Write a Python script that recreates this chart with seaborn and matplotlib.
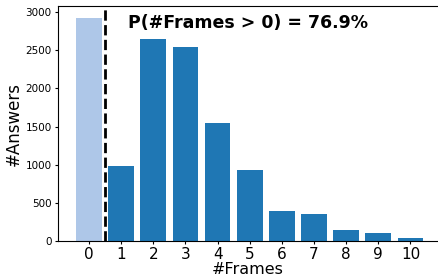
import numpy as np
import pandas as pd
import seaborn as sns
import matplotlib.pyplot as plt

# number of frames per answer
frames = [0, 1, 2, 3, 4, 5, 6, 7, 8, 9, 10]
answers = [2930, 983, 2647, 2542, 1550, 930, 393, 354, 144, 105, 39]

data = pd.DataFrame({'frames': frames, 'answers': answers})
data['zero'] = np.where(data['frames'] == 0, 'zero', 'nonzero')

sns.set_style('ticks')
plt.rcParams['font.family'] = ['DejaVu Sans']
plt.rcParams['text.color'] = 'black'
plt.rcParams['axes.labelcolor'] = 'black'
plt.rcParams['xtick.color'] = 'black'
plt.rcParams['ytick.color'] = 'black'
plt.rcParams['axes.edgecolor'] = 'black'

fig = plt.figure(figsize=(4.38, 2.77), dpi=100)
ax = fig.add_axes([0.132, 0.130, 0.866, 0.848])

sns.barplot(x='frames', y='answers', hue='zero', data=data, order=frames,
            palette={'zero': '#aec7e8', 'nonzero': '#1f77b4'},
            width=0.8, saturation=1, dodge=False, legend=False,
            linewidth=0, ax=ax)

# split between no frame and some frames
ax.axvline(0.5, color='black', linestyle='--', linewidth=2)

ax.text(0.185, 0.928, 'P(#Frames > 0) = 76.9%', transform=ax.transAxes,
        fontsize=12.5, fontweight='bold', va='center', ha='left')

ax.set_xlim(-0.97, 10.83)
ax.set_ylim(0, 3080)
ax.set_yticks([0, 500, 1000, 1500, 2000, 2500, 3000])
ax.tick_params(axis='y', labelsize=7.5, length=2.5, pad=2)
ax.tick_params(axis='x', labelsize=11, length=2.5, pad=2)
ax.set_xlabel('#Frames', fontsize=11.5, labelpad=0)
ax.set_ylabel('#Answers', fontsize=12, labelpad=2)
ax.spines['right'].set_visible(False)

plt.savefig('out.png', dpi=100)
